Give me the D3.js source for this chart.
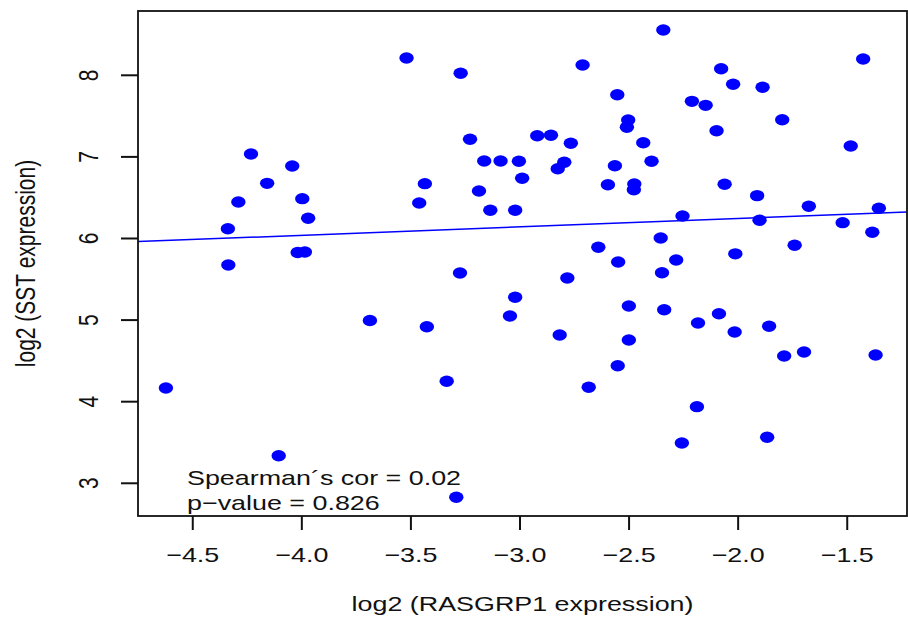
<!DOCTYPE html>
<html>
<head>
<meta charset="utf-8">
<script src="https://cdn.jsdelivr.net/npm/d3@7"></script>
<style>
  body { margin: 0; background: white; }
  text { font-family: "Liberation Sans", Arial, sans-serif; fill: #111; }
</style>
</head>
<body>
<div id="chart"></div>
<script>
var rasgrp1 = [
    -4.623, -4.339, -4.337, -4.291, -4.233, -4.159, -4.044, -3.998, -3.971, -4.019,
    -3.986, -4.106, -3.688, -3.520, -3.272, -3.229, -3.436, -3.462, -3.164, -3.089,
    -3.005, -2.990, -3.188, -3.136, -3.022, -2.921, -2.858, -2.767, -2.797, -2.827,
    -2.713, -2.554, -2.504, -2.510, -2.565, -2.597, -2.476, -2.478, -2.435, -2.397,
    -2.343, -2.078, -2.023, -1.888, -1.427, -2.212, -2.149, -1.798, -2.099, -1.484,
    -2.062, -1.913, -1.676, -1.355, -2.255, -1.902, -1.521, -1.385, -2.355, -2.641,
    -1.741, -2.013, -2.284, -2.550, -2.349, -3.275, -2.783, -3.022, -3.046, -3.427,
    -2.501, -2.339, -2.088, -2.184, -2.016, -1.858, -2.818, -2.501, -2.552, -1.789,
    -1.698, -1.370, -3.336, -2.685, -2.189, -2.258, -1.867, -3.292
];

var sst = [
    4.168, 6.120, 5.675, 6.447, 7.036, 6.676, 6.889, 6.488, 6.248, 5.828,
    5.835, 3.338, 4.995, 8.212, 8.025, 7.216, 6.672, 6.435, 6.950, 6.950,
    6.946, 6.738, 6.582, 6.346, 6.346, 7.260, 7.265, 7.167, 6.934, 6.855,
    8.126, 7.762, 7.452, 7.363, 6.892, 6.659, 6.668, 6.598, 7.174, 6.946,
    8.555, 8.081, 7.890, 7.853, 8.200, 7.681, 7.632, 7.456, 7.321, 7.134,
    6.664, 6.525, 6.395, 6.370, 6.276, 6.223, 6.194, 6.076, 6.006, 5.892,
    5.917, 5.812, 5.737, 5.712, 5.581, 5.577, 5.516, 5.279, 5.050, 4.919,
    5.173, 5.127, 5.078, 4.964, 4.854, 4.925, 4.817, 4.756, 4.441, 4.560,
    4.609, 4.572, 4.250, 4.176, 3.939, 3.494, 3.564, 2.828
];

var xTicks = [-4.5, -4.0, -3.5, -3.0, -2.5, -2.0, -1.5];
var yTicks = [3, 4, 5, 6, 7, 8];

// intercept and slope of the fitted line
var fitLine = [6.451, 0.103];

var statLines = ["Spearman\u00b4s cor = 0.02", "p\u2212value = 0.826"];

var width = 908, height = 619;
var box = { left: 138, right: 907, top: 11, bottom: 516 };
var stretch = 1.28;

var svg = d3.select("#chart")
  .append("svg")
    .attr("width", width)
    .attr("height", height);

var x = d3.scaleLinear()
    .domain([-4.751, -1.226])
    .range([box.left, box.right]);

var y = d3.scaleLinear()
    .domain([2.599, 8.788])
    .range([box.bottom, box.top]);

var fmtX = function(d) { return d3.format(".1f")(d).replace("-", "\u2212"); };

svg.append("clipPath")
    .attr("id", "plotclip")
  .append("rect")
    .attr("x", box.left)
    .attr("y", box.top)
    .attr("width", box.right - box.left)
    .attr("height", box.bottom - box.top);

// points
svg.append("g")
    .attr("clip-path", "url(#plotclip)")
  .selectAll("ellipse")
  .data(d3.range(rasgrp1.length))
  .enter()
    .append("ellipse")
      .attr("cx", function(i) { return x(rasgrp1[i]); })
      .attr("cy", function(i) { return y(sst[i]); })
      .attr("rx", 7.2)
      .attr("ry", 5.7)
      .style("fill", "#0000ff");

// regression line
var xd = x.domain();
svg.append("line")
    .attr("clip-path", "url(#plotclip)")
    .attr("x1", x(xd[0]))
    .attr("y1", y(fitLine[0] + fitLine[1] * xd[0]))
    .attr("x2", x(xd[1]))
    .attr("y2", y(fitLine[0] + fitLine[1] * xd[1]))
    .style("stroke", "#0000ff")
    .style("stroke-width", 1.5);

// box
svg.append("rect")
    .attr("x", box.left)
    .attr("y", box.top)
    .attr("width", box.right - box.left)
    .attr("height", box.bottom - box.top)
    .style("fill", "none")
    .style("stroke", "#111")
    .style("stroke-width", 1.8);

// x axis
svg.selectAll(".xtick")
  .data(xTicks)
  .enter()
    .append("line")
      .attr("class", "xtick")
      .attr("x1", function(d) { return x(d); })
      .attr("x2", function(d) { return x(d); })
      .attr("y1", box.bottom)
      .attr("y2", box.bottom + 14)
      .style("stroke", "#111")
      .style("stroke-width", 2);

svg.selectAll(".xlab")
  .data(xTicks)
  .enter()
    .append("text")
      .attr("class", "xlab")
      .attr("transform", function(d) { return "translate(" + x(d) + ",562) scale(" + stretch + ",1)"; })
      .attr("text-anchor", "middle")
      .style("font-size", "21px")
      .text(fmtX);

// y axis
svg.selectAll(".ytick")
  .data(yTicks)
  .enter()
    .append("line")
      .attr("class", "ytick")
      .attr("x1", box.left)
      .attr("x2", box.left - 17)
      .attr("y1", function(d) { return y(d); })
      .attr("y2", function(d) { return y(d); })
      .style("stroke", "#111")
      .style("stroke-width", 2);

svg.selectAll(".ylab")
  .data(yTicks)
  .enter()
    .append("text")
      .attr("class", "ylab")
      .attr("transform", function(d) { return "translate(98," + y(d) + ") scale(" + stretch + ",1) rotate(-90)"; })
      .attr("text-anchor", "middle")
      .style("font-size", "21px")
      .text(function(d) { return d; });

// axis titles
svg.append("text")
    .attr("transform", "translate(" + ((box.left + box.right) / 2) + ",611) scale(" + stretch + ",1)")
    .attr("text-anchor", "middle")
    .style("font-size", "21px")
    .text("log2 (RASGRP1 expression)");

svg.append("text")
    .attr("transform", "translate(35," + ((box.top + box.bottom) / 2) + ") scale(" + stretch + ",1) rotate(-90)")
    .attr("text-anchor", "middle")
    .style("font-size", "21px")
    .text("log2 (SST expression)");

// correlation text
svg.selectAll(".stat")
  .data(statLines)
  .enter()
    .append("text")
      .attr("class", "stat")
      .attr("transform", function(d, i) { return "translate(187," + (485 + i * 25) + ") scale(" + stretch + ",1)"; })
      .style("font-size", "21px")
      .text(function(d) { return d; });
</script>
</body>
</html>
